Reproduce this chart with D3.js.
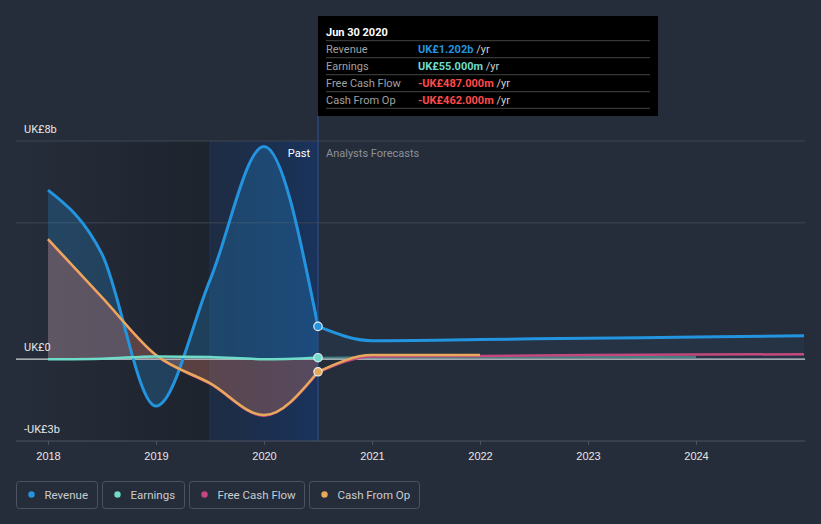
<!DOCTYPE html>
<html>
<head>
<meta charset="utf-8">
<script src="https://cdn.jsdelivr.net/npm/d3@7"></script>
<style>
  body { margin: 0; background: #262d3a; }
  svg { display: block; font-family: Roboto, "Noto Sans", sans-serif; }
</style>
</head>
<body>
<div id="vis"></div>
<script>
// values in UK£ billions, dates as decimal years
let pastYears = [2018, 2018.5, 2019, 2019.5, 2020, 2020.5]
let revenuePast = [6.2, 3.85, -1.72, 2.9, 7.8, 1.202]
let earningsPast = [0.0, 0.02, 0.1, 0.08, 0.0, 0.055]
let fcfPast = [4.38, 2.26, 0.14, -0.9, -2.07, -0.487]
let cfoPast = [4.4, 2.27, 0.15, -0.88, -2.05, -0.462]

let revenueFcYears = [2020.5, 2021, 2022, 2023, 2024, 2025]
let revenueFc = [1.202, 0.68, 0.72, 0.77, 0.81, 0.86]
let earningsFcYears = [2020.5, 2021, 2022, 2023, 2024]
let earningsFc = [0.055, 0.06, 0.07, 0.08, 0.08]
let fcfFcYears = [2020.5, 2021, 2022, 2023, 2024, 2025]
let fcfFc = [-0.487, 0.1, 0.12, 0.15, 0.17, 0.18]
let cfoFcYears = [2020.5, 2021, 2022]
let cfoFc = [-0.462, 0.15, 0.15]

let xTicks = [2018, 2019, 2020, 2021, 2022, 2023, 2024]
let yLabels = [{v: 8, t: 'UK£8b'}, {v: 0, t: 'UK£0'}, {v: -3, t: '-UK£3b'}]
let gridValues = [8, 5]

let tipTitle = 'Jun 30 2020'
let tipRows = [
    {label: 'Revenue', value: 'UK£1.202b', color: '#2394df'},
    {label: 'Earnings', value: 'UK£55.000m', color: '#6fdcca'},
    {label: 'Free Cash Flow', value: '-UK£487.000m', color: '#ff4a4a'},
    {label: 'Cash From Op', value: '-UK£462.000m', color: '#ff4a4a'}
]
let legendItems = [
    {name: 'Revenue', color: '#2394df', w: 81},
    {name: 'Earnings', color: '#6fdcca', w: 82},
    {name: 'Free Cash Flow', color: '#c4487e', w: 115},
    {name: 'Cash From Op', color: '#e8a95b', w: 110}
]

let colors = {rev: '#2394df', earn: '#6fdcca', fcf: '#c4487e', cfo: '#e8a95b'}

let svg = d3.select('#vis').append('svg')
    .attr('width', 821)
    .attr('height', 524)

svg.append('rect').attr('width', 821).attr('height', 524).attr('fill', '#262d3a')

let x = d3.scaleLinear().domain([2018, 2025]).range([48, 804])
let y = d3.scaleLinear().domain([-3, 8]).range([441, 141])
let left = x(2017.704), right = x(2025.01)
let now = 2020.5

let defs = svg.append('defs')
let g1 = defs.append('linearGradient').attr('id', 'dark')
g1.append('stop').attr('offset', 0).attr('stop-color', '#000').attr('stop-opacity', 0)
g1.append('stop').attr('offset', 1).attr('stop-color', '#000').attr('stop-opacity', 0.22)
let g2 = defs.append('linearGradient').attr('id', 'past')
g2.append('stop').attr('offset', 0).attr('stop-color', '#0d2a55').attr('stop-opacity', 0.32)
g2.append('stop').attr('offset', 1).attr('stop-color', '#0d3a80').attr('stop-opacity', 0.5)

// background bands
svg.append('rect').attr('x', left).attr('y', y(8)).attr('width', x(2019.5) - left)
    .attr('height', y(-3) - y(8)).attr('fill', 'url(#dark)')
svg.append('rect').attr('x', x(2019.5)).attr('y', y(8)).attr('width', x(now) - x(2019.5))
    .attr('height', y(-3) - y(8)).attr('fill', 'url(#past)')
svg.append('line').attr('x1', x(2019.5)).attr('x2', x(2019.5)).attr('y1', y(8)).attr('y2', y(-3))
    .attr('stroke', '#1c3458').attr('stroke-width', 1)

// gridlines
svg.selectAll('.grid').data(gridValues).enter().append('line')
    .attr('x1', left).attr('x2', right)
    .attr('y1', d => y(d)).attr('y2', d => y(d))
    .attr('stroke', '#3d4553').attr('stroke-width', 1)

// bottom axis
let xAxis = svg.append('g').attr('transform', 'translate(0,' + y(-3) + ')')
    .call(d3.axisBottom(x).tickValues(xTicks).tickFormat(d3.format('d')).tickSize(4).tickSizeOuter(0))
xAxis.select('.domain').remove()
xAxis.append('line').attr('x1', left).attr('x2', right).attr('stroke', '#4c5361')
xAxis.selectAll('.tick line').attr('stroke', '#4c5361')
xAxis.selectAll('.tick text').attr('fill', '#e6e6e6').attr('font-size', 11).attr('dy', '1.1em')

let pts = (xs, vs) => xs.map((d, i) => [d, vs[i]])
let line = d3.line().x(d => x(d[0])).y(d => y(d[1])).curve(d3.curveMonotoneX)
let area = d3.area().x(d => x(d[0])).y0(y(0)).y1(d => y(d[1])).curve(d3.curveMonotoneX)

// fills
svg.append('path').attr('d', area(pts(pastYears, revenuePast))).attr('fill', colors.rev).attr('opacity', 0.25)
svg.append('path').attr('d', area(pts(revenueFcYears, revenueFc))).attr('fill', colors.rev).attr('opacity', 0.07)
svg.append('path').attr('d', area(pts(pastYears, fcfPast))).attr('fill', colors.fcf).attr('opacity', 0.18)
svg.append('path').attr('d', area(pts(pastYears, cfoPast))).attr('fill', colors.cfo).attr('opacity', 0.18)

// zero line
svg.append('line').attr('x1', left).attr('x2', right).attr('y1', y(0)).attr('y2', y(0))
    .attr('stroke', '#d0d3d8').attr('stroke-width', 1.2)

// forecast lines
svg.append('path').attr('d', line(pts(earningsFcYears, earningsFc))).attr('fill', 'none')
    .attr('stroke', colors.earn).attr('stroke-width', 2).attr('opacity', 0.45)
svg.append('path').attr('d', line(pts(fcfFcYears, fcfFc))).attr('fill', 'none')
    .attr('stroke', colors.fcf).attr('stroke-width', 2.5)
svg.append('path').attr('d', line(pts(cfoFcYears, cfoFc))).attr('fill', 'none')
    .attr('stroke', colors.cfo).attr('stroke-width', 2.5)
svg.append('path').attr('d', line(pts(revenueFcYears, revenueFc))).attr('fill', 'none')
    .attr('stroke', colors.rev).attr('stroke-width', 3)

// past lines
svg.append('path').attr('d', line(pts(pastYears, fcfPast))).attr('fill', 'none')
    .attr('stroke', colors.fcf).attr('stroke-width', 2.5)
svg.append('path').attr('d', line(pts(pastYears, revenuePast))).attr('fill', 'none')
    .attr('stroke', colors.rev).attr('stroke-width', 3)
svg.append('path').attr('d', line(pts(pastYears, cfoPast))).attr('fill', 'none')
    .attr('stroke', colors.cfo).attr('stroke-width', 2.5)
svg.append('path').attr('d', line(pts(pastYears, earningsPast))).attr('fill', 'none')
    .attr('stroke', colors.earn).attr('stroke-width', 2.5)

// y labels
svg.selectAll('.ylab').data(yLabels).enter().append('text')
    .attr('x', 24).attr('y', d => y(d.v) - 8)
    .attr('fill', '#e6e6e6').attr('font-size', 11)
    .text(d => d.t)

// past / forecast labels
svg.append('text').attr('x', x(now) - 8).attr('y', 157).attr('text-anchor', 'end')
    .attr('fill', '#ffffff').attr('font-size', 11).text('Past')
svg.append('text').attr('x', x(now) + 8).attr('y', 157)
    .attr('fill', '#8b919a').attr('font-size', 11).text('Analysts Forecasts')

// now line
svg.append('line').attr('x1', x(now)).attr('x2', x(now)).attr('y1', 115).attr('y2', y(-3))
    .attr('stroke', '#2a5597').attr('stroke-width', 1)

// markers
let markers = [
    {v: revenuePast[5], c: colors.rev},
    {v: earningsPast[5], c: colors.earn},
    {v: cfoPast[5], c: colors.cfo}
]
svg.selectAll('.mk').data(markers).enter().append('circle')
    .attr('cx', x(now)).attr('cy', d => y(d.v)).attr('r', 4.2)
    .attr('fill', d => d.c).attr('stroke', '#e8ecf0').attr('stroke-width', 1.2)

// tooltip
let tip = svg.append('g').attr('transform', 'translate(' + x(now) + ',16)')
tip.append('rect').attr('width', 340).attr('height', 100).attr('fill', '#000')
tip.append('text').attr('x', 8).attr('y', 20).attr('fill', '#fff')
    .attr('font-size', 11).attr('font-weight', 'bold').text(tipTitle)
tipRows.forEach((r, i) => {
    let base = 24.7 + i * 17
    tip.append('line').attr('x1', 8).attr('x2', 332).attr('y1', base).attr('y2', base)
        .attr('stroke', '#444')
    let t = tip.append('text').attr('y', base + 12.5).attr('font-size', 11)
    t.append('tspan').attr('x', 8).attr('fill', '#a0a0a0').text(r.label)
    t.append('tspan').attr('x', 100).attr('fill', r.color).attr('font-weight', 'bold').text(r.value)
    t.append('tspan').attr('fill', '#d0d0d0').text(' /yr')
})
tip.append('line').attr('x1', 8).attr('x2', 332).attr('y1', 92.3).attr('y2', 92.3).attr('stroke', '#444')

// legend
let lx = 16.5
legendItems.forEach(d => {
    let g = svg.append('g').attr('transform', 'translate(' + lx + ',481.5)')
    g.append('rect').attr('width', d.w).attr('height', 27).attr('rx', 3)
        .attr('fill', 'none').attr('stroke', '#4b5261')
    g.append('circle').attr('cx', 15).attr('cy', 13).attr('r', 3.2).attr('fill', d.color)
    g.append('text').attr('x', 28).attr('y', 17).attr('fill', '#c9ccd1')
        .attr('font-size', 11.5).text(d.name)
    lx += d.w + 5
})
</script>
</body>
</html>
